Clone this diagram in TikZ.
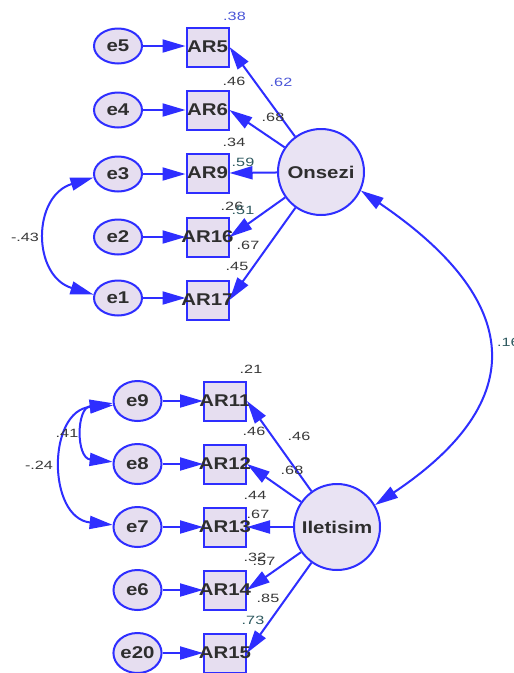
\documentclass[tikz,border=0pt]{standalone}
\usepackage{fontspec}
\setmainfont{Liberation Sans}
\newfontfamily\nodefont{Liberation Sans Bold}[FakeStretch=1.2]
\newfontfamily\labfont{Liberation Sans}[FakeStretch=1.35]
\usetikzlibrary{arrows.meta,shapes.geometric}
\definecolor{edge}{HTML}{2E2EFF}
\definecolor{nodefill}{HTML}{E6DEF0}
\definecolor{latfill}{HTML}{E9E3F3}
\definecolor{txt}{HTML}{2E2E2E}
\definecolor{labtxt}{HTML}{383838}
\definecolor{labblue}{HTML}{4A55D8}
\definecolor{labteal}{HTML}{2F5A60}
\newcommand{\nolap}[1]{\makebox[0pt]{#1}}
\tikzset{
  nodetext/.style={font=\nodefont\fontsize{17}{17}\selectfont, text=txt},
  err/.style={ellipse, draw=edge, fill=nodefill, line width=2pt,
    minimum width=48pt, minimum height=35pt, inner sep=0pt, nodetext},
  errb/.style={err, minimum height=40pt},
  obs/.style={rectangle, draw=edge, fill=nodefill, line width=2pt,
    minimum width=42pt, minimum height=39pt, inner sep=0pt, nodetext},
  lat/.style={circle, draw=edge, fill=latfill, line width=2pt,
    minimum size=86pt, inner sep=0pt, nodetext},
  lab/.style={font=\labfont\fontsize{12}{12}\selectfont, text=labtxt, inner sep=0pt},
  tip/.tip={Triangle[length=23pt 0 0,width=13pt 0 0]},
  arr/.style={draw=edge, line width=2pt, -tip},
  darr/.style={draw=edge, line width=2pt, tip-tip}
}
\begin{document}
\begin{tikzpicture}[x=1pt,y=-1pt]
\clip (0,0) rectangle (514,673);
\fill[white] (0,0) rectangle (514,673);

% first factor: Onsezi
\node[lat] (ons) at (321,172) {Onsezi};
\foreach \i/\y in {5/47,6/110,9/173,16/237,17/300}{
  \node[obs] (AR\i) at (207.5,\y) {\nolap{AR\i}};
}
\node[err] (e5) at (118,46) {e5};
\node[err] (e4) at (118,110) {e4};
\node[err] (e3) at (118,174) {e3};
\node[err] (e2) at (118,237) {e2};
\node[err] (e1) at (118,298) {e1};

\draw[arr] (e5) -- (AR5.west |- e5);
\draw[arr] (e4) -- (AR6.west |- e4);
\draw[arr] (e3) -- (AR9.west |- e3);
\draw[arr] (e2) -- (AR16.west |- e2);
\draw[arr] (e1) -- (AR17.west |- e1);

\foreach \t in {AR5,AR6,AR9,AR16,AR17}{
  \draw[arr] (ons) -- (\t.east);
}
\draw[darr] (e3.188) .. controls (32,196) and (32,276) .. (e1.172);

% second factor: Iletisim
\node[lat] (ilet) at (337,527) {Iletisim};
\foreach \i/\y in {11/401,12/464,13/527,14/590,15/653}{
  \node[obs] (AR\i) at (225,\y) {\nolap{AR\i}};
}
\node[errb] (e9) at (137.5,401) {e9};
\node[errb] (e8) at (137.5,464) {e8};
\node[errb] (e7) at (137.5,527) {e7};
\node[errb] (e6) at (137.5,590) {e6};
\node[errb] (e20) at (137.5,653) {e20};

\draw[arr] (e9) -- (AR11.west |- e9);
\draw[arr] (e8) -- (AR12.west |- e8);
\draw[arr] (e7) -- (AR13.west |- e7);
\draw[arr] (e6) -- (AR14.west |- e6);
\draw[arr] (e20) -- (AR15.west |- e20);

\foreach \t in {AR11,AR12,AR13,AR14,AR15}{
  \draw[arr] (ilet) -- (\t.east);
}
\draw[darr] (e9.185) .. controls (76,408) and (76,458) .. (e8.175);
\draw[darr] (e9.190) .. controls (47,410) and (47,518) .. (e7.175);

% factor covariance
\draw[darr] (ons.-25) .. controls (522,300) and (532,400) .. (ilet.30);

% estimates
\node[lab, text=labblue] at (234.5,16) {.38};
\node[lab, text=labblue] at (281,82) {.62};
\node[lab] at (234,81) {.46};
\node[lab] at (273,117) {.68};
\node[lab] at (234,142) {.34};
\node[lab, text=labteal] at (243,162) {.59};
\node[lab] at (232,206) {.26};
\node[lab, text=labteal] at (243,210) {.51};
\node[lab] at (248,245) {.67};
\node[lab] at (237,266) {.45};
\node[lab] at (25,237) {-.43};
\node[lab, text=labteal, anchor=west] at (497,342) {.16};

\node[lab] at (251,369) {.21};
\node[lab] at (254,431) {.46};
\node[lab] at (299,436) {.46};
\node[lab] at (292,470) {.68};
\node[lab] at (67,433) {.41};
\node[lab] at (39,465) {-.24};
\node[lab] at (255,495) {.44};
\node[lab] at (258,514) {.67};
\node[lab] at (255,557) {.32};
\node[lab] at (264,561) {.57};
\node[lab] at (268,598) {.85};
\node[lab, text=labteal] at (253,620) {.73};
\end{tikzpicture}
\end{document}
